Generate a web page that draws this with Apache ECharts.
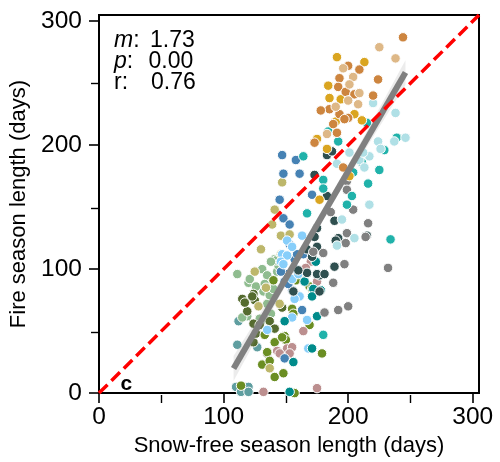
<!DOCTYPE html>
<html>
<head>
<meta charset="utf-8">
<script src="https://cdn.jsdelivr.net/npm/echarts@6/dist/echarts.min.js"></script>
<style>html,body{margin:0;padding:0;background:#fff}#c{width:500px;height:462px}</style>
</head>
<body>
<div id="c"></div>
<script>
// ---- data: [snow-free season length, fire season length] (days) ----
const orangePts = [[244,287],[200,264],[209,261],[193,254],[224,253],[192,247],[198,243],[205,241],[220,240],[185,229],[178,228],[193,225],[200,222],[197,221],[188,217],[191,210],[173,202],[196,182]];
const tanPts = [[225,279],[238,270],[196,262],[204,255],[201,249],[209,242],[200,236],[208,233],[190,231],[183,209]];
const goldPts = [[191,271],[213,267],[184,248],[185,238],[194,237],[205,225],[211,220],[190,219],[175,205],[183,197],[201,175],[177,156]];
const tealPts = [[184,211],[192,203],[215,218],[239,206],[229,196],[225,180],[216,169],[204,178],[203,159],[199,152],[180,172],[180,165],[167,145],[164,191],[234,124],[211,186],[180,47]];
const cyanPts = [[220,234],[238,226],[246,206],[237,203],[224,203],[217,191],[209,188],[213,182],[201,194],[191,185],[217,152],[205,125],[191,119],[195,140],[212,194],[226,197]];
const slatePts = [[183,192],[187,195],[173,176],[183,159],[189,139],[192,125],[215,127],[175,133],[173,126],[189,102],[177,95],[177,82],[167,97],[156,82],[167,116],[175,118],[190,123],[175,96],[160,99],[181,96],[171,110]];
const greyPts = [[199,171],[199,164],[204,148],[199,129],[198,121],[216,137],[214,126],[197,104],[232,101],[180,113],[188,89],[181,65],[192,67],[200,70],[186,146],[172,114]];
const steelPts = [[147,192],[158,188],[148,177],[161,177],[145,156],[171,160],[148,141],[153,136],[164,112],[149,90],[155,83],[163,67],[149,28],[157,108],[151,96],[153,120],[159,112],[146,98],[158,100],[152,88]];
const skyPts = [[163,127],[151,123],[155,118],[147,112],[151,111],[155,92],[161,78],[155,61],[167,59],[168,36],[135,51],[146,106],[160,96],[148,104],[157,76]];
const khakiPts = [[147,170],[141,148],[139,136],[146,127],[130,116],[125,98],[146,112],[145,72],[137,20],[153,128],[134,85],[128,70]];
const seaPts = [[111,96],[120,89],[131,100],[135,95],[141,108],[143,98],[132,82],[135,72],[138,64],[119,62],[144,103],[137,79],[115,61],[134,59],[129,60],[142,107],[138,106],[126,86],[133,88],[140,84],[121,92]];
const darkOlivePts = [[115,76],[124,80],[125,75],[119,66],[124,56],[137,58],[141,52],[124,41],[147,69],[123,78],[135,32],[126,48],[117,73],[129,55]];
const drabPts = [[140,91],[133,47],[149,46],[150,43],[141,41],[135,33],[131,23],[141,13],[148,16],[155,68],[169,55],[179,32],[169,86],[158,91],[114,6],[137,26],[147,45],[157,0],[156,64],[171,84]];
const rosyPts = [[143,34],[151,36],[155,37],[153,32],[164,50],[170,106],[175,90],[158,80],[175,4],[132,1],[145,32],[159,79],[166,101]];
const darkCyanPts = [[172,84],[171,78],[149,58],[156,25],[171,36],[175,62],[153,1],[174,106],[165,90],[178,83]];
const cadetPts = [[110,5],[120,5],[111,39],[127,37],[112,58],[114,1],[120,1]];

const groups = [
  ['cadet', cadetPts, '#5f9ea0'],
  ['seagreen', seaPts, '#8fbc8f'],
  ['darkolive', darkOlivePts, '#556b2f'],
  ['drab', drabPts, '#6b8e23'],
  ['khaki', khakiPts, '#bdb76b'],
  ['rosy', rosyPts, '#bc8f8f'],
  ['steel', steelPts, '#4682b4'],
  ['sky', skyPts, '#87cefa'],
  ['darkcyan', darkCyanPts, '#008b8b'],
  ['slate', slatePts, '#2f4f4f'],
  ['grey', greyPts, '#808080'],
  ['teal', tealPts, '#20b2aa'],
  ['cyan', cyanPts, '#b0e0e6'],
  ['gold', goldPts, '#daa520'],
  ['orange', orangePts, '#cd853f'],
  ['tan', tanPts, '#deb887']
];

// regression stats
const slope = 1.73;
const intercept = -167;
const regRange = [108, 246];
const statLabels = ['m', 'p', 'r'];
const statValues = ['1.73', '0.00', '0.76'];
const bandHalfCenter = 4, bandHalfEdge = 10;

const axisMin = 0, axisMax = 305;
const majorTicks = [0, 100, 200, 300];
const minorTicks = [50, 150, 250];
const diagRange = [0, 305];

const FONT = "'Liberation Sans', Arial, Helvetica, sans-serif";

const series = groups.map(g => ({
  type: 'scatter', name: g[0], data: g[1], xAxisIndex: 0, yAxisIndex: 0,
  symbolSize: 9.5,
  itemStyle: { color: g[2], borderColor: '#ffffff', borderWidth: 1, opacity: 1 },
  z: 3, silent: true
}));

const xm = (regRange[0] + regRange[1]) / 2;
const bcoef = Math.sqrt((bandHalfEdge * bandHalfEdge - bandHalfCenter * bandHalfCenter)) / ((regRange[1] - regRange[0]) / 2);
function halfW(x) { const d = x - xm; return Math.sqrt(bandHalfCenter * bandHalfCenter + bcoef * bcoef * d * d); }

series.push({
  type: 'custom', xAxisIndex: 0, yAxisIndex: 0, z: 4, silent: true,
  data: [[regRange[0], 0]],
  renderItem: function (params, api) {
    const pts = [];
    const n = 40;
    for (let i = 0; i <= n; i++) {
      const x = regRange[0] + (regRange[1] - regRange[0]) * i / n;
      pts.push(api.coord([x, slope * x + intercept + halfW(x)]));
    }
    for (let i = n; i >= 0; i--) {
      const x = regRange[0] + (regRange[1] - regRange[0]) * i / n;
      pts.push(api.coord([x, slope * x + intercept - halfW(x)]));
    }
    return { type: 'polygon', shape: { points: pts }, style: { fill: 'rgba(150,150,150,0.18)' } };
  }
});

series.push({
  type: 'line', xAxisIndex: 0, yAxisIndex: 0, z: 5, silent: true, symbol: 'none',
  data: regRange.map(x => [x, slope * x + intercept]),
  lineStyle: { color: '#808080', width: 6, cap: 'butt' }
});

series.push({
  type: 'line', xAxisIndex: 0, yAxisIndex: 0, z: 6, silent: true, symbol: 'none',
  data: diagRange.map(v => [v, v]),
  lineStyle: { color: '#ff0000', width: 3.5, type: [12, 5.5] }
});

const grid = { left: 99, right: 21, top: 15, bottom: 67 };

const option = {
  animation: false,
  backgroundColor: '#ffffff',
  grid: [
    Object.assign({ show: true, borderColor: '#000', borderWidth: 2, backgroundColor: 'transparent' }, grid),
    Object.assign({ show: false }, grid)
  ],
  xAxis: [
    {
      type: 'value', gridIndex: 0, min: axisMin, max: axisMax, interval: 100,
      name: 'Snow-free season length (days)', nameLocation: 'middle', nameGap: 39,
      nameTextStyle: { fontFamily: FONT, fontSize: 22, color: '#000' },
      axisLine: { show: true, lineStyle: { color: '#000', width: 2 } },
      axisTick: { show: true, length: 10, customValues: majorTicks, lineStyle: { color: '#000', width: 1.6 } },
      axisLabel: { customValues: majorTicks, fontFamily: FONT, fontSize: 24.5, color: '#000', margin: 12 },
      splitLine: { show: false }
    },
    {
      type: 'value', gridIndex: 1, min: axisMin, max: axisMax, interval: 50, position: 'bottom',
      axisLine: { show: false },
      axisTick: { show: true, length: 8, customValues: minorTicks, lineStyle: { color: '#000', width: 1.4 } },
      axisLabel: { show: false }, splitLine: { show: false }
    }
  ],
  yAxis: [
    {
      type: 'value', gridIndex: 0, min: axisMin, max: axisMax, interval: 100,
      name: 'Fire season length (days)', nameLocation: 'middle', nameGap: 66,
      nameTextStyle: { fontFamily: FONT, fontSize: 22, color: '#000' },
      axisLine: { show: true, lineStyle: { color: '#000', width: 2 } },
      axisTick: { show: true, length: 10, customValues: majorTicks, lineStyle: { color: '#000', width: 1.6 } },
      axisLabel: { customValues: majorTicks, fontFamily: FONT, fontSize: 24.5, color: '#000', margin: 17 },
      splitLine: { show: false }
    },
    {
      type: 'value', gridIndex: 1, min: axisMin, max: axisMax, interval: 50, position: 'left',
      axisLine: { show: false },
      axisTick: { show: true, length: 8, customValues: minorTicks, lineStyle: { color: '#000', width: 1.4 } },
      axisLabel: { show: false }, splitLine: { show: false }
    }
  ],
  graphic: [].concat(
    statLabels.map((lab, i) => ({
      type: 'text', left: 114, top: 29 + i * 21.3, z: 100,
      style: { text: (lab === 'r' ? lab : '{i|' + lab + '}') + ':', font: '23px ' + FONT, fill: '#000',
        rich: { i: { fontStyle: 'italic', fontSize: 23, fontFamily: FONT } } }
    })),
    statValues.map((v, i) => ({
      type: 'text', left: [150, 148.5, 151][i], top: 29 + i * 21.3, z: 100,
      style: { text: v, font: '23px ' + FONT, fill: '#000' }
    })),
    [{ type: 'text', left: 120.5, top: 374, z: 100, style: { text: 'c', font: 'bold 21px ' + FONT, fill: '#000' } }]
  ),
  series: series
};

const chart = echarts.init(document.getElementById('c'), null, { renderer: 'canvas' });
chart.setOption(option);
</script>
</body>
</html>
